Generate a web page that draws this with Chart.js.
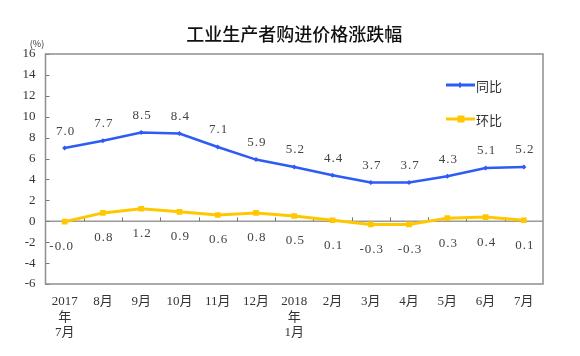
<!DOCTYPE html>
<html><head><meta charset="utf-8">
<script src="https://cdn.jsdelivr.net/npm/chart.js@4/dist/chart.umd.min.js"></script>
<style>html,body{margin:0;padding:0;background:#fff}canvas{display:block}</style>
</head>
<body>
<canvas id="c" width="580" height="356"></canvas>
<script>
const chartTitle = '工业生产者购进价格涨跌幅';
const unitLabel = '(%)';
const categories = [['2017','年','7月'],'8月','9月','10月','11月','12月',['2018','年','1月'],'2月','3月','4月','5月','6月','7月'];
const seriesNames = ['同比','环比'];
const yoyValues = [7.0, 7.7, 8.5, 8.4, 7.1, 5.9, 5.2, 4.4, 3.7, 3.7, 4.3, 5.1, 5.2];
const momValues = [-0.04, 0.8, 1.2, 0.9, 0.6, 0.8, 0.5, 0.1, -0.3, -0.3, 0.3, 0.4, 0.1];
const yMin = -6, yMax = 16, yStep = 2;

const BLUE = '#2C5BF5';
const GOLD = '#FFC700';
const NUMFONT = '"Liberation Serif", "Noto Sans CJK SC", serif';

const decor = {
  id: 'decor',
  beforeDatasetsDraw(chart) {
    const {ctx, chartArea: a, scales: {x, y}} = chart;
    ctx.save();
    // zero line
    const y0 = y.getPixelForValue(0);
    ctx.strokeStyle = '#9a9a9a';
    ctx.lineWidth = 1.5;
    ctx.beginPath(); ctx.moveTo(a.left, y0); ctx.lineTo(a.right, y0); ctx.stroke();
    // category boundary ticks on zero line
    ctx.lineWidth = 1;
    ctx.strokeStyle = '#777';
    const n = categories.length;
    const step = (a.right - a.left) / n;
    for (let i = 1; i < n; i++) {
      const px = Math.round(a.left + step * i) + 0.5;
      ctx.beginPath(); ctx.moveTo(px, y0); ctx.lineTo(px, y0 - 4); ctx.stroke();
    }
    // y ticks inside
    for (let v = yMin; v <= yMax; v += yStep) {
      const py = Math.round(y.getPixelForValue(v)) + 0.5;
      ctx.beginPath(); ctx.moveTo(a.left, py); ctx.lineTo(a.left + 4, py); ctx.stroke();
    }
    // frame
    ctx.strokeStyle = '#8e8e8e';
    ctx.lineWidth = 1.5;
    ctx.strokeRect(a.left, a.top, a.right - a.left, a.bottom - a.top);
    ctx.restore();
  },
  afterDatasetsDraw(chart) {
    const {ctx, chartArea: a} = chart;
    ctx.save();
    ctx.font = '13px ' + NUMFONT;
    ctx.fillStyle = '#444';
    ctx.textAlign = 'center';
    ctx.textBaseline = 'middle';
    try { ctx.letterSpacing = '1px'; } catch (e) {}
    const m0 = chart.getDatasetMeta(0), m1 = chart.getDatasetMeta(1);
    yoyValues.forEach((v, i) => {
      const p = m0.data[i];
      ctx.fillText(v.toFixed(1), p.x + 1, p.y - 17);
    });
    momValues.forEach((v, i) => {
      const p = m1.data[i];
      ctx.fillText(v.toFixed(1), p.x + (i === 0 ? -3 : 1), p.y + 25);
    });
    try { ctx.letterSpacing = '0px'; } catch (e) {}
    // legend
    const lx = a.right - 97, colors = [BLUE, GOLD], ys = [85, 119];
    ctx.textAlign = 'left';
    ctx.font = '13px "Noto Sans CJK SC", sans-serif';
    seriesNames.forEach((name, k) => {
      ctx.strokeStyle = colors[k];
      ctx.lineWidth = 3;
      ctx.beginPath(); ctx.moveTo(lx, ys[k]); ctx.lineTo(lx + 29, ys[k]); ctx.stroke();
      ctx.fillStyle = colors[k];
      if (k === 0) {
        ctx.fillRect(lx + 13, ys[k] - 2.5, 2, 5);
      } else {
        ctx.fillRect(lx + 11.5, ys[k] - 3.5, 7, 7);
      }
      ctx.fillStyle = '#333';
      ctx.fillText(name, lx + 30, ys[k] + 1);
    });
    ctx.restore();
  },
  afterDraw(chart) {
    const {ctx, chartArea: a} = chart;
    ctx.save();
    ctx.fillStyle = '#111';
    ctx.textAlign = 'center';
    ctx.textBaseline = 'middle';
    ctx.font = '500 18px "Noto Sans CJK SC", sans-serif';
    ctx.fillText(chartTitle, (a.left + a.right) / 2, 34);
    ctx.font = '9px "Noto Sans CJK SC", sans-serif';
    ctx.fillStyle = '#333';
    ctx.fillText(unitLabel, 37, 44);
    ctx.restore();
  }
};

new Chart(document.getElementById('c'), {
  type: 'line',
  data: {
    labels: categories,
    datasets: [
      {
        label: seriesNames[0], data: yoyValues,
        borderColor: BLUE, backgroundColor: BLUE, borderWidth: 2.5,
        pointStyle: 'rectRot', pointRadius: 2.5, pointBorderWidth: 0,
        tension: 0
      },
      {
        label: seriesNames[1], data: momValues,
        borderColor: GOLD, backgroundColor: GOLD, borderWidth: 3,
        pointStyle: 'rect', pointRadius: 4, pointBorderWidth: 0,
        tension: 0
      }
    ]
  },
  options: {
    responsive: false,
    devicePixelRatio: 1,
    animation: false,
    layout: { padding: { left: 0, right: 37, top: 54, bottom: 0 } },
    plugins: { legend: { display: false }, title: { display: false }, tooltip: { enabled: false } },
    scales: {
      x: {
        type: 'category', offset: true,
        grid: { display: false, drawTicks: false },
        border: { display: false },
        ticks: {
          autoSkip: false, maxRotation: 0, minRotation: 0, padding: 10,
          color: '#333', font: { size: 13, family: NUMFONT, lineHeight: 1.2 }
        },
        afterFit(s) { s.height = 72; }
      },
      y: {
        min: yMin, max: yMax,
        grid: { display: false, drawTicks: false },
        border: { display: false },
        ticks: {
          stepSize: yStep, padding: 10,
          color: '#333', font: { size: 13, family: NUMFONT }
        },
        afterFit(s) { s.width = 45.5; }
      }
    }
  },
  plugins: [decor]
});
</script>
</body></html>
